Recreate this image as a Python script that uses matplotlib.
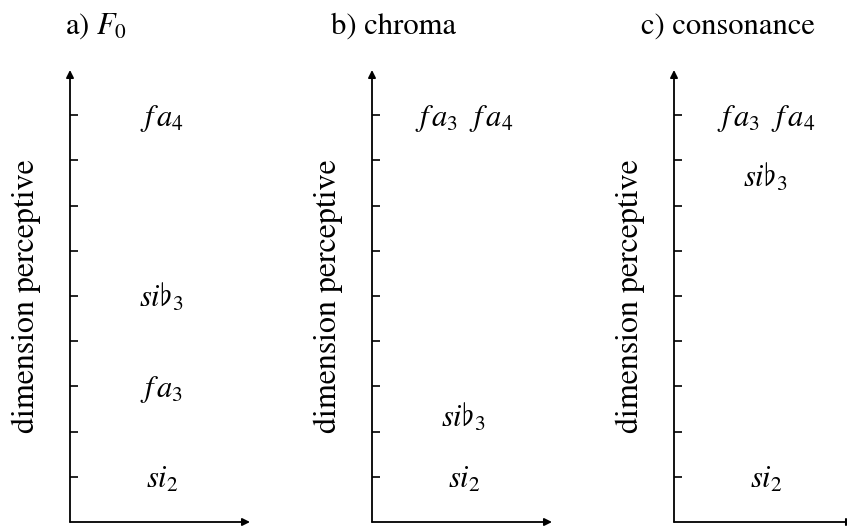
import matplotlib

matplotlib.use("Agg")
import matplotlib.pyplot as plt
from matplotlib.transforms import offset_copy

plt.rcParams["font.family"] = ["STIXGeneral", "DejaVu Serif"]
plt.rcParams["mathtext.fontset"] = "stix"

# panel titles
titles = ["a) $F_0$", "b) chroma", "c) consonance"]

# notes placed on the perceptual dimension, one list pair per panel
f0_notes = [r"$f\,a_4$", r"$si\flat_3$", r"$f\,a_3$", "$si_2$"]
f0_levels = [9, 5, 3, 1]

chroma_notes = [r"$f\,a_3\ \ f\,a_4$", r"$si\flat_3$", "$si_2$"]
chroma_levels = [9, 2.35, 1]

consonance_notes = [r"$f\,a_3\ \ f\,a_4$", r"$si\flat_3$", "$si_2$"]
consonance_levels = [9, 7.65, 1]

tick_levels = [1, 2, 3, 4, 5, 6, 7, 8, 9]
ylabel = "dimension perceptive"

panels = [
    (titles[0], f0_notes, f0_levels),
    (titles[1], chroma_notes, chroma_levels),
    (titles[2], consonance_notes, consonance_levels),
]

W, H = 847, 527
fig = plt.figure(figsize=(W / 100, H / 100), dpi=100)

# axes origin (px) per panel, and where each title starts relative to it
lefts_px = [70, 372, 674]
title_x = [-0.028, -0.228, -0.183]
ax_w, ax_h, bottom_px = 180, 452, 522

for (title, notes, levels), left, tx in zip(panels, lefts_px, title_x):
    ax = fig.add_axes([left / W, (H - bottom_px) / H, ax_w / W, ax_h / H])
    ax.set_xlim(0, 1)
    ax.set_ylim(0, 10)
    for s in ax.spines.values():
        s.set_visible(False)
    ax.set_xticks([])
    ax.set_yticks(tick_levels)
    ax.tick_params(axis="y", direction="in", length=6, width=1.2,
                   labelleft=False, left=True)

    arrow = dict(arrowstyle="-|>", lw=1.3, color="black",
                 mutation_scale=11, shrinkA=0, shrinkB=0)
    ax.annotate("", xy=(0, 10), xytext=(0, 0), arrowprops=arrow,
                annotation_clip=False)
    ax.annotate("", xy=(1, 0), xytext=(0, 0), arrowprops=arrow,
                annotation_clip=False)

    # baseline of each note sits a little under its tick
    note_tr = offset_copy(ax.transData, fig=fig, x=2, y=-11, units="dots")
    for note, lvl in zip(notes, levels):
        ax.text(0.5, lvl, note, ha="center", va="baseline", fontsize=22,
                transform=note_tr)

    ax.text(-0.244, 0.5, ylabel, rotation=90, ha="center", va="center",
            fontsize=23, transform=ax.transAxes)
    ax.text(tx, 1.08, title, ha="left", va="baseline", fontsize=22,
            transform=ax.transAxes)

fig.savefig("out.png", dpi=100)
